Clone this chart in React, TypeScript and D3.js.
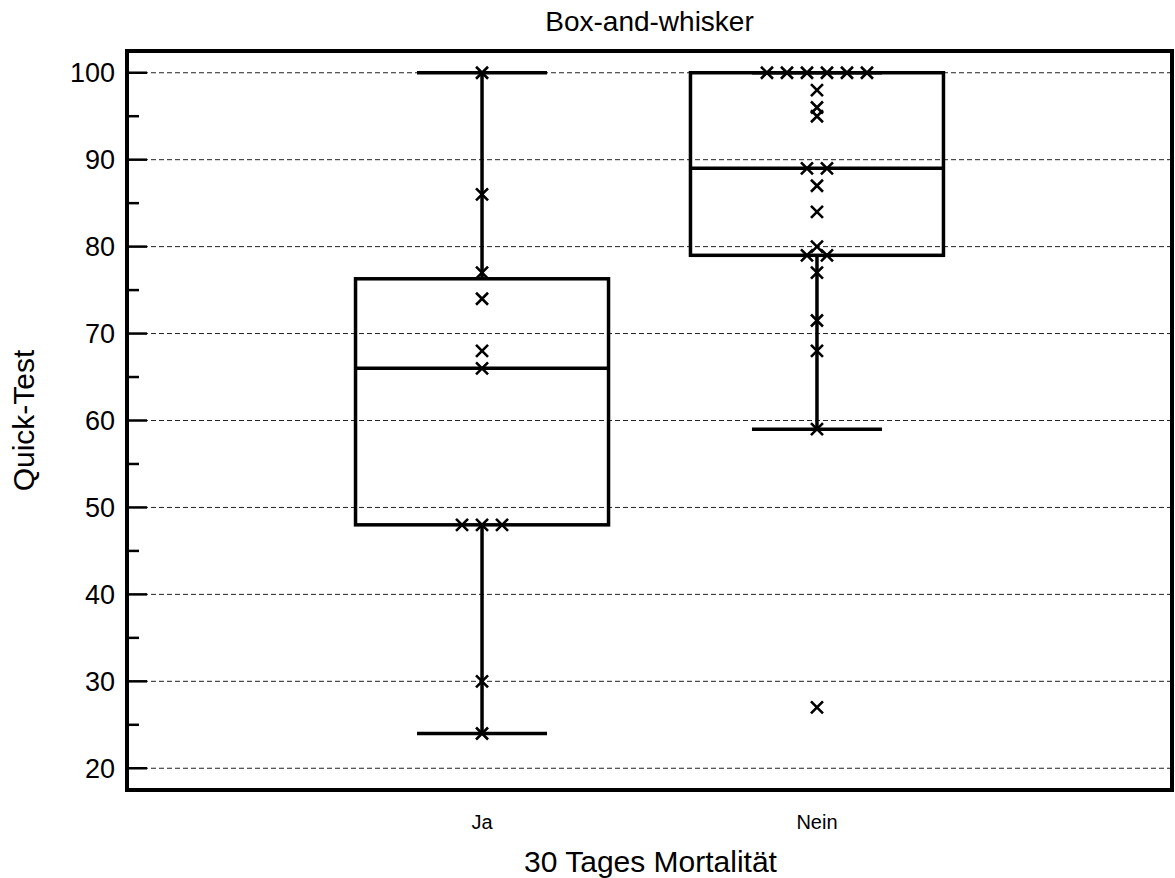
import * as d3 from 'd3';

const categories = ['Ja', 'Nein'];
const jaValues = [100, 86, 77, 74, 68, 66, 48, 48, 48, 30, 24];
const neinValues = [
  100, 100, 100, 100, 100, 100, 98, 96, 95, 89, 89, 87, 84, 80, 79, 79, 77, 71.5, 68, 59, 27,
];
const q1 = [48, 79];
const medians = [66, 89];
const q3 = [76.3, 100];
const whiskerLow = [24, 59];
const whiskerHigh = [100, 100];
const majorTicks = [20, 30, 40, 50, 60, 70, 80, 90, 100];
const minorTicks = [25, 35, 45, 55, 65, 75, 85, 95];

const W = 1175;
const H = 878;
const margin = { top: 51, right: 3, bottom: 88, left: 127 };
const font = "'Liberation Sans', Arial, sans-serif";

export default function App() {
  const x0 = margin.left;
  const x1 = W - margin.right;
  const y0 = margin.top;
  const y1 = H - margin.bottom;

  const x = d3.scaleLinear().domain([-0.06, 3.06]).range([x0, x1]);
  const y = d3.scaleLinear().domain([17.5, 102.5]).range([y1, y0]);

  const boxHalf = 126.5;
  const capHalf = 65;
  const jitter = 20;
  const arm = 6;

  const groups = [jaValues, neinValues];

  return (
    <svg
      width={W}
      height={H}
      style={{ position: 'absolute', left: 0, top: 0, background: '#fff' }}
      fontFamily={font}
    >
      {/* title */}
      <text x={(x0 + x1) / 2} y={31} textAnchor="middle" fontSize={28} fill="#000">
        Box-and-whisker
      </text>

      {/* gridlines */}
      {majorTicks.map((t) => (
        <line
          key={'g' + t}
          x1={x0}
          x2={x1}
          y1={y(t)}
          y2={y(t)}
          stroke="#222"
          strokeWidth={1}
          strokeDasharray="5 3"
        />
      ))}

      {/* ticks + labels */}
      {majorTicks.map((t) => (
        <g key={'t' + t}>
          <line x1={x0} x2={x0 + 20} y1={y(t)} y2={y(t)} stroke="#000" strokeWidth={2.5} />
          <text x={115} y={y(t)} dy="0.36em" textAnchor="end" fontSize={27} fill="#000">
            {t}
          </text>
        </g>
      ))}
      {minorTicks.map((t) => (
        <line key={'m' + t} x1={x0} x2={x0 + 12} y1={y(t)} y2={y(t)} stroke="#000" strokeWidth={2.5} />
      ))}

      {/* boxes */}
      {categories.map((c, i) => {
        const cx = x(i + 1);
        return (
          <g key={c} stroke="#000" strokeWidth={3.5} fill="none">
            <rect x={cx - boxHalf} y={y(q3[i])} width={boxHalf * 2} height={y(q1[i]) - y(q3[i])} />
            <line x1={cx - boxHalf} x2={cx + boxHalf} y1={y(medians[i])} y2={y(medians[i])} />
            <line x1={cx} x2={cx} y1={y(q3[i])} y2={y(whiskerHigh[i])} />
            <line x1={cx} x2={cx} y1={y(q1[i])} y2={y(whiskerLow[i])} />
            <line x1={cx - capHalf} x2={cx + capHalf} y1={y(whiskerHigh[i])} y2={y(whiskerHigh[i])} />
            <line x1={cx - capHalf} x2={cx + capHalf} y1={y(whiskerLow[i])} y2={y(whiskerLow[i])} />
          </g>
        );
      })}

      {/* points, ties spread sideways */}
      {groups.map((vals, i) => {
        const counts = d3.rollup(vals, (v) => v.length, (v) => v);
        const seen = new Map<number, number>();
        return vals.map((v, j) => {
          const n = counts.get(v) || 1;
          const k = seen.get(v) || 0;
          seen.set(v, k + 1);
          const px = x(i + 1) + (k - (n - 1) / 2) * jitter;
          const py = y(v);
          return (
            <path
              key={i + '-' + j}
              d={`M${px - arm},${py - arm}L${px + arm},${py + arm}M${px - arm},${py + arm}L${px + arm},${py - arm}`}
              stroke="#000"
              strokeWidth={2.6}
              fill="none"
            />
          );
        });
      })}

      {/* frame */}
      <rect x={x0} y={y0} width={x1 - x0} height={y1 - y0} fill="none" stroke="#000" strokeWidth={4} />

      {/* category labels */}
      {categories.map((c, i) => (
        <text key={'c' + c} x={x(i + 1)} y={829} textAnchor="middle" fontSize={20} fill="#000">
          {c}
        </text>
      ))}

      {/* axis titles */}
      <text x={(x0 + x1) / 2 + 1} y={872} textAnchor="middle" fontSize={30} fill="#000">
        30 Tages Mortalität
      </text>
      <text
        transform={`translate(34,${(y0 + y1) / 2}) rotate(-90)`}
        textAnchor="middle"
        fontSize={30}
        fill="#000"
      >
        Quick-Test
      </text>
    </svg>
  );
}
